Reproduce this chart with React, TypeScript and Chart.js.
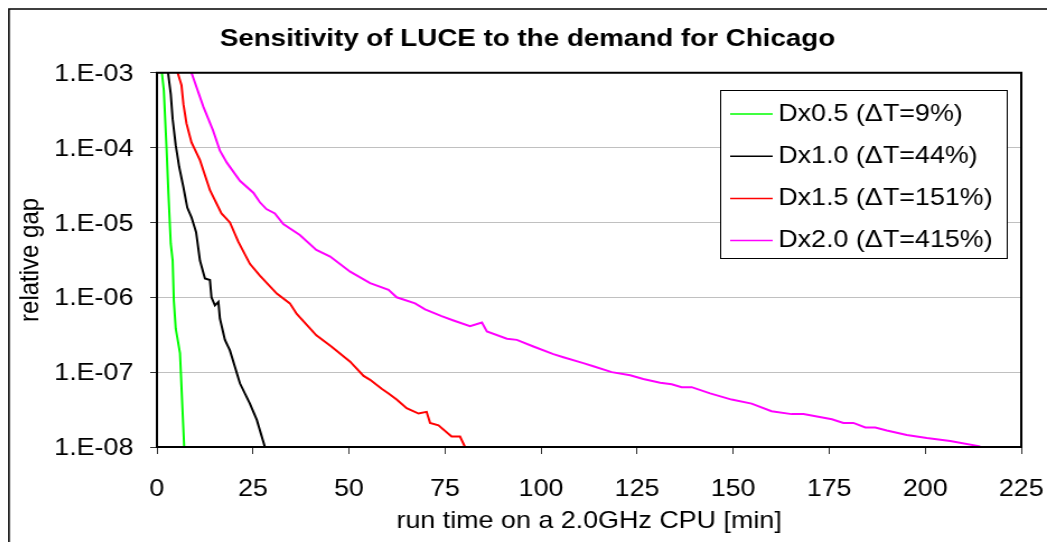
import React, { useEffect, useRef } from 'react';
import { Chart, registerables } from 'chart.js';

Chart.register(...registerables);

// ---------- text ----------
const chartTitle = 'Sensitivity of LUCE to the demand for Chicago';
const xAxisTitle = 'run time on a 2.0GHz CPU [min]';
const yAxisTitle = 'relative gap';
const seriesLabels = ['Dx0.5 (ΔT=9%)', 'Dx1.0 (ΔT=44%)', 'Dx1.5 (ΔT=151%)', 'Dx2.0 (ΔT=415%)'];
const seriesColors = ['#00ff00', '#000000', '#ff0000', '#ff00ff'];

// ---------- axes ----------
const xMin = 0;
const xMax = 225;
const xStep = 25;
const yTickExponents = [-3, -4, -5, -6, -7, -8];

// ---------- data (run time [min], relative gap) ----------
const d05Time = [1.3, 1.8, 2.5, 3.0, 3.6, 4.1, 4.4, 4.9, 6.0, 7.1];
const d05Gap = [1.0e-3, 5.8e-4, 1.0e-4, 2.4e-5, 5.2e-6, 3.1e-6, 9.1e-7, 3.8e-7, 1.8e-7, 1.0e-8];

const d10Time = [2.9, 3.6, 4.1, 4.9, 5.8, 6.9, 7.9, 9.0, 10.2, 11.2, 12.5, 13.8, 14.2, 15.1, 16.0, 16.4, 17.7, 19.0, 21.6, 24.2, 26.0, 28.1];
const d10Gap = [1.0e-3, 5.2e-4, 2.4e-4, 1.07e-4, 5.5e-5, 2.95e-5, 1.58e-5, 1.17e-5, 7.4e-6, 3.1e-6, 1.78e-6, 1.7e-6, 1.0e-6, 7.8e-7, 8.7e-7, 5.2e-7, 2.7e-7, 1.95e-7, 7.1e-8, 3.8e-8, 2.3e-8, 1.0e-8];

const d15Time = [5.4, 6.4, 6.9, 7.7, 9.0, 11.2, 13.8, 16.8, 19.0, 21.2, 24.2, 26.8, 31.2, 34.6, 36.4, 41.5, 45.4, 50.3, 53.8, 55.5, 58.5, 60.3, 62.4, 65.0, 68.1, 70.2, 71.1, 73.3, 76.7, 78.9, 80.2];
const d15Gap = [1.0e-3, 6.8e-4, 3.8e-4, 2.1e-4, 1.17e-4, 6.8e-5, 2.7e-5, 1.32e-5, 1.0e-5, 5.5e-6, 2.8e-6, 1.95e-6, 1.12e-6, 8.3e-7, 6.0e-7, 3.1e-7, 2.2e-7, 1.38e-7, 8.9e-8, 7.9e-8, 6.0e-8, 5.2e-8, 4.3e-8, 3.3e-8, 2.8e-8, 2.95e-8, 2.1e-8, 1.95e-8, 1.38e-8, 1.38e-8, 1.0e-8];

const d20Time = [9.0, 12.1, 14.6, 16.4, 18.2, 21.6, 25.1, 26.8, 28.5, 30.7, 32.9, 37.2, 41.5, 45.1, 50.3, 55.5, 60.3, 62.4, 67.2, 69.8, 74.1, 77.2, 81.5, 84.6, 85.9, 91.1, 93.7, 98.0, 103.2, 105.8, 111.0, 113.6, 118.4, 123.2, 126.6, 131.0, 134.0, 136.6, 139.2, 144.0, 149.6, 154.8, 160.0, 165.2, 168.3, 175.7, 178.7, 181.3, 184.4, 187.0, 190.0, 195.2, 200.4, 206.5, 214.3];
const d20Gap = [1.0e-3, 3.5e-4, 1.7e-4, 9.1e-5, 6.3e-5, 3.6e-5, 2.5e-5, 1.86e-5, 1.51e-5, 1.32e-5, 9.5e-6, 6.8e-6, 4.3e-6, 3.5e-6, 2.2e-6, 1.55e-6, 1.26e-6, 1.0e-6, 8.3e-7, 6.9e-7, 5.6e-7, 4.9e-7, 4.1e-7, 4.6e-7, 3.5e-7, 2.8e-7, 2.7e-7, 2.2e-7, 1.74e-7, 1.58e-7, 1.32e-7, 1.2e-7, 1.0e-7, 9.1e-8, 8.1e-8, 7.2e-8, 6.9e-8, 6.3e-8, 6.3e-8, 5.2e-8, 4.3e-8, 3.8e-8, 3.0e-8, 2.75e-8, 2.75e-8, 2.35e-8, 2.1e-8, 2.1e-8, 1.82e-8, 1.82e-8, 1.66e-8, 1.45e-8, 1.32e-8, 1.2e-8, 1.02e-8];

const seriesTimes = [d05Time, d10Time, d15Time, d20Time];
const seriesGaps = [d05Gap, d10Gap, d15Gap, d20Gap];

// ---------- layout (canvas is drawn narrower and stretched horizontally) ----------
const FONT = "'Liberation Sans', Arial, Helvetica, sans-serif";
const DISPLAY_W = 1039;
const DISPLAY_H = 534;
const CANVAS_W = 928;
const CANVAS_H = 534;
const PLOT_RIGHT_GAP = 23;

const LEG = { x: 636, y: 82, w: 256, h: 168, lineX0: 645, lineX1: 683, textX: 688, firstRow: 106, rowGap: 42.2 };

const frameLegendPlugin = {
  id: 'frameLegend',
  beforeDraw(chart: any) {
    const ctx = chart.ctx;
    ctx.save();
    ctx.fillStyle = '#ffffff';
    ctx.fillRect(0, 0, chart.width, chart.height);
    ctx.strokeStyle = '#000000';
    ctx.lineWidth = 1.5;
    ctx.beginPath();
    ctx.moveTo(0.9, chart.height);
    ctx.lineTo(0.9, 0.9);
    ctx.lineTo(chart.width, 0.9);
    ctx.stroke();
    ctx.restore();
  },
  afterDatasetsDraw(chart: any) {
    const { ctx, chartArea } = chart;
    ctx.save();
    ctx.strokeStyle = '#000000';
    ctx.lineWidth = 2;
    ctx.strokeRect(chartArea.left, chartArea.top, chartArea.right - chartArea.left, chartArea.bottom - chartArea.top);
    ctx.restore();
  },
  afterDraw(chart: any) {
    const ctx = chart.ctx;
    ctx.save();
    ctx.fillStyle = '#ffffff';
    ctx.fillRect(LEG.x, LEG.y, LEG.w, LEG.h);
    ctx.strokeStyle = '#000000';
    ctx.lineWidth = 1;
    ctx.strokeRect(LEG.x + 0.5, LEG.y + 0.5, LEG.w, LEG.h);
    ctx.font = `24px ${FONT}`;
    ctx.textBaseline = 'middle';
    ctx.textAlign = 'left';
    chart.data.datasets.forEach((ds: any, i: number) => {
      const y = LEG.firstRow + i * LEG.rowGap;
      ctx.strokeStyle = ds.borderColor;
      ctx.lineWidth = 1.5;
      ctx.beginPath();
      ctx.moveTo(LEG.lineX0, y);
      ctx.lineTo(LEG.lineX1, y);
      ctx.stroke();
      ctx.fillStyle = '#000000';
      ctx.fillText(ds.label, LEG.textX, y);
    });
    ctx.restore();
  },
};

export default function App() {
  const ref = useRef<HTMLCanvasElement>(null);

  useEffect(() => {
    const canvas = ref.current;
    if (!canvas) return;
    const datasets = seriesLabels.map((label, i) => ({
      label,
      data: seriesTimes[i].map((t, j) => ({ x: t, y: seriesGaps[i][j] })),
      borderColor: seriesColors[i],
      backgroundColor: seriesColors[i],
      borderWidth: 2,
      pointRadius: 0,
      tension: 0,
      fill: false,
    }));
    const tickFont = { family: FONT, size: 24 };
    const chart = new Chart(canvas, {
      type: 'line',
      data: { datasets },
      plugins: [frameLegendPlugin],
      options: {
        responsive: false,
        animation: false,
        devicePixelRatio: 1,
        layout: { padding: { left: 0, right: 0, top: 0, bottom: 0 } },
        plugins: {
          legend: { display: false },
          tooltip: { enabled: false },
          title: {
            display: true,
            text: chartTitle,
            color: '#000000',
            font: { family: FONT, size: 24.8, weight: 'bold' },
            padding: { top: 16.4, bottom: 18.6 },
          },
        },
        scales: {
          x: {
            type: 'linear',
            min: xMin,
            max: xMax,
            afterFit: (s: any) => {
              s.height = 95;
              s.paddingLeft = 0;
              s.paddingRight = PLOT_RIGHT_GAP;
            },
            ticks: { stepSize: xStep, padding: 21, color: '#000000', font: tickFont, autoSkip: false, maxRotation: 0 },
            grid: { drawOnChartArea: false, drawTicks: true, tickLength: 7, tickColor: '#333333', tickWidth: 1 },
            border: { display: false },
            title: { display: true, text: xAxisTitle, color: '#000000', font: tickFont, padding: { top: 0, bottom: 6.6 } },
          },
          y: {
            type: 'logarithmic',
            min: Math.pow(10, Math.min(...yTickExponents)),
            max: Math.pow(10, Math.max(...yTickExponents)),
            afterFit: (s: any) => { s.width = 133; },
            afterBuildTicks: (s: any) => { s.ticks = yTickExponents.map((e) => ({ value: Math.pow(10, e) })); },
            ticks: {
              padding: 15,
              labelOffset: 1.5,
              color: '#000000',
              font: tickFont,
              autoSkip: false,
              callback: (v: any) => {
                const e = Math.round(Math.log10(Number(v)));
                return `1.E-${String(-e).padStart(2, '0')}`;
              },
            },
            grid: { color: '#c0c0c0', lineWidth: 1, drawTicks: true, tickLength: 6, tickColor: '#333333' },
            border: { display: false },
            title: { display: true, text: yAxisTitle, color: '#000000', font: tickFont, padding: { top: 6, bottom: 0 } },
          },
        },
      } as any,
    });
    return () => chart.destroy();
  }, []);

  return (
    <canvas
      ref={ref}
      width={CANVAS_W}
      height={CANVAS_H}
      style={{ position: 'fixed', left: 8, top: 8, width: `${DISPLAY_W}px`, height: `${DISPLAY_H}px`, display: 'block' }}
    />
  );
}
